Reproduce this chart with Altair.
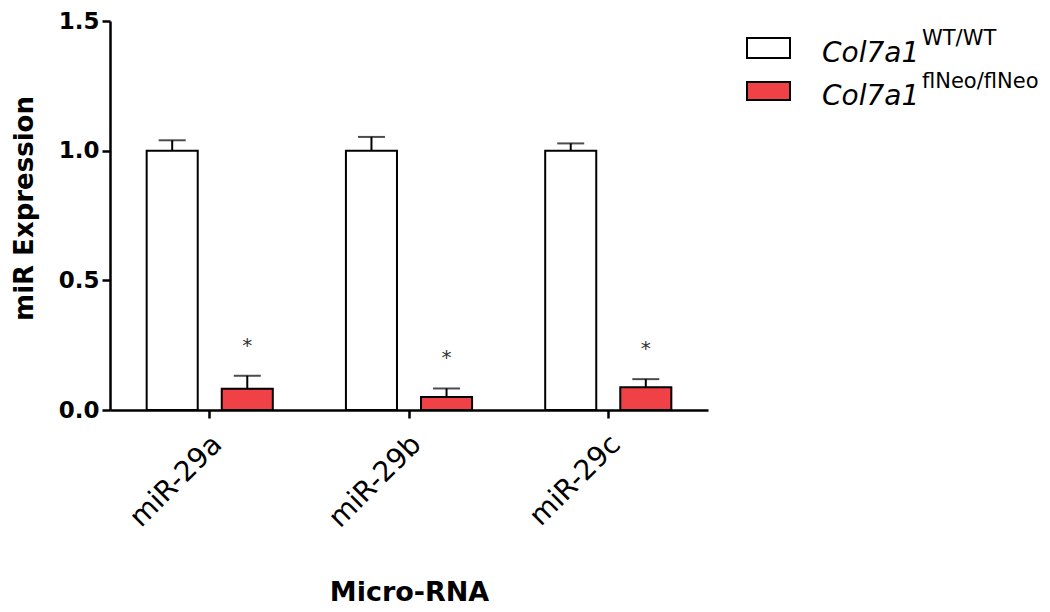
import altair as alt
import pandas as pd

categories = ["miR-29a", "miR-29b", "miR-29c"]
groups = ["WT", "flNeo"]
wt_mean = [1.0, 1.0, 1.0]
wt_err = [0.040, 0.053, 0.028]
ko_mean = [0.082, 0.050, 0.088]
ko_err = [0.050, 0.033, 0.031]
sig = ["*", "*", "*"]
legend_base = ["Col7a1", "Col7a1"]
legend_sup = ["WT/WT", "flNeo/flNeo"]
colors = ["#FFFFFF", "#F04147"]

rows = []
for i, c in enumerate(categories):
    rows.append(dict(cat=c, grp=groups[0], mean=wt_mean[i], top=wt_mean[i] + wt_err[i], star=""))
    rows.append(dict(cat=c, grp=groups[1], mean=ko_mean[i], top=ko_mean[i] + ko_err[i], star=sig[i]))
df = pd.DataFrame(rows)

x_enc = alt.X(
    "cat:N", sort=categories,
    scale=alt.Scale(paddingInner=0.367, paddingOuter=0.184),
    axis=alt.Axis(
        title="Micro-RNA", labelAngle=-45, labelFont="DejaVu Sans", labelFontSize=28,
        labelColor="black", labelPadding=12, labelOffset=-2,
        titleFont="DejaVu Sans", titleFontWeight="bold", titleFontSize=27, titleColor="black",
        titleX=299, titleY=190, titleAlign="center", titleBaseline="alphabetic",
    ),
)
xo_enc = alt.XOffset("grp:N", sort=groups, scale=alt.Scale(paddingInner=0.32, paddingOuter=0))
y_enc = alt.Y(
    "mean:Q", scale=alt.Scale(domain=[0, 1.5], nice=False),
    axis=alt.Axis(
        values=[0, 0.5, 1.0, 1.5], format=".1f", title="miR Expression",
        labelFont="DejaVu Sans", labelFontWeight="bold", labelFontSize=23, labelColor="black",
        labelPadding=3,
        titleFont="DejaVu Sans", titleFontWeight="bold", titleFontSize=26, titleColor="black",
        titleX=-86, titleY=187, titleAngle=270, titleAlign="center", titleBaseline="middle",
    ),
)

base = alt.Chart(df)
bars = base.mark_bar(stroke="black", strokeWidth=2).encode(
    x=x_enc, xOffset=xo_enc, y=y_enc,
    fill=alt.Fill("grp:N", scale=alt.Scale(domain=groups, range=colors), legend=None),
)
err = base.mark_rule(color="black", strokeWidth=2).encode(
    x="cat:N", xOffset=alt.XOffset("grp:N", sort=groups), y="mean:Q", y2="top:Q"
)
cap = base.mark_tick(color="black", thickness=2, size=27).encode(
    x="cat:N", xOffset=alt.XOffset("grp:N", sort=groups), y="top:Q"
)
stars = base.transform_filter(alt.datum.star != "").mark_text(
    font="DejaVu Sans", fontSize=20, fill="#333333", dy=-30, baseline="middle"
).encode(x="cat:N", xOffset=alt.XOffset("grp:N", sort=groups), y="top:Q", text="star:N")

legend_layers = []
box_y = [(17, 37), (61, 79)]
text_y = [41, 84]
sup_y = [24, 67]
for i in range(2):
    ldf = pd.DataFrame({"base": [legend_base[i]], "sup": [legend_sup[i]]})
    lc = alt.Chart(ldf)
    legend_layers.append(lc.mark_rect(fill=colors[i], stroke="black", strokeWidth=2).encode(
        x=alt.value(637), x2=alt.value(680), y=alt.value(box_y[i][0]), y2=alt.value(box_y[i][1])))
    legend_layers.append(lc.mark_text(font="DejaVu Sans", fontStyle="italic", fontSize=28,
                                      align="left", baseline="alphabetic", color="black").encode(
        x=alt.value(712), y=alt.value(text_y[i]), text="base:N"))
    legend_layers.append(lc.mark_text(font="DejaVu Sans", fontSize=21,
                                      align="left", baseline="alphabetic", color="black").encode(
        x=alt.value(812), y=alt.value(sup_y[i]), text="sup:N"))

chart = alt.layer(bars, err, cap, stars, *legend_layers).properties(
    width=598, height=389,
    autosize=alt.AutoSizeParams(type="none"),
    padding={"left": 102, "top": 13, "right": 334, "bottom": 196},
).configure_view(stroke=None).configure_axis(
    grid=False, domainColor="black", domainWidth=2.5, tickColor="black", tickWidth=2.5, tickSize=8,
)

chart.save("out.html", embed_options={"renderer": "svg", "actions": False})
